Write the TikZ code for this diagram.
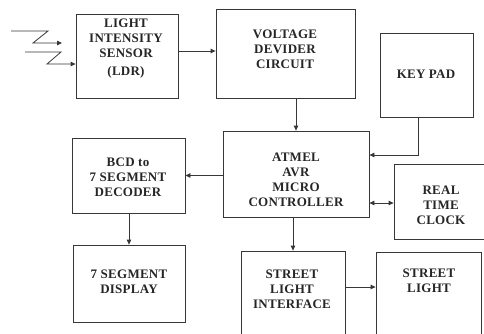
\documentclass[tikz,border=0pt]{standalone}
\usepackage{fontspec}
\setmainfont{Liberation Serif}[LetterSpace=2]
\usetikzlibrary{positioning, arrows.meta, calc}
\definecolor{blkline}{RGB}{55,55,55}
\tikzset{
    blk/.style={rectangle, draw=blkline, line width=0.8pt, inner sep=0pt},
    blktext/.style={align=center, font=\fontsize{13}{15}\selectfont\bfseries, text=black!85, inner sep=0pt},
    arr/.style={-{Triangle[length=5pt, width=4.5pt]}, line width=0.8pt, draw=blkline},
    arrboth/.style={{Triangle[length=5pt, width=4.5pt]}-{Triangle[length=5pt, width=4.5pt]}, line width=0.8pt, draw=blkline},
    ray/.style={line width=0.8pt, draw=blkline}
}
\begin{document}
\begin{tikzpicture}[x=1pt, y=-1pt]
    \useasboundingbox (0,0) rectangle (484,333);
    \clip (0,0) rectangle (484,333);
    % blocks
    \node[blk, minimum width=102pt, minimum height=84pt] (ldr) at (127,56) {};
    \node[blk, minimum width=139pt, minimum height=89pt] (vdc) at (285.5,53.5) {};
    \node[blk, minimum width=93pt, minimum height=84pt] (key) at (426.5,75) {};
    \node[blk, minimum width=146pt, minimum height=86pt] (avr) at (296,174) {};
    \node[blk, minimum width=106pt, minimum height=75pt] (rtc) at (447,201.5) {};
    \node[blk, minimum width=113pt, minimum height=75pt] (bcd) at (128.5,175.5) {};
    \node[blk, minimum width=112pt, minimum height=77pt] (seg) at (129,283.5) {};
    \node[blk, minimum width=104pt, minimum height=94pt] (sli) at (293,298) {};
    \node[blk, minimum width=105pt, minimum height=93pt] (sl) at (428.5,298.5) {};
    % texts
    \node[blktext] (ldrtxt) at (126,49) {LIGHT\\INTENSITY\\SENSOR\\[3pt](LDR)};
    \node[blktext] (vdctxt) at (285,49) {VOLTAGE\\DEVIDER\\CIRCUIT};
    \node[blktext] (keytxt) at (426,74) {KEY PAD};
    \node[blktext] (avrtxt) at (296,180) {ATMEL\\AVR\\MICRO\\CONTROLLER};
    \node[blktext] (rtctxt) at (441,205) {REAL\\TIME\\CLOCK};
    \node[blktext] (bcdtxt) at (128,177.5) {BCD to\\7 SEGMENT\\DECODER};
    \node[blktext] (segtxt) at (129,281.5) {7 SEGMENT\\DISPLAY};
    \node[blktext] (slitxt) at (292,289.5) {STREET\\LIGHT\\INTERFACE};
    \node[blktext] (sltxt) at (429,281) {STREET\\LIGHT};
    % light rays
    \coordinate (raya) at (11,31);
    \coordinate (rayb) at (25,52);
    \draw[arr] (raya) -- ++(37,0) -- ++(-15,12) -- ++(29,0);
    \draw[arr] (rayb) -- ++(36,0) -- ++(-14,12) coordinate (rayc) -- (ldr.west |- rayc);
    % connections
    \coordinate (lvy) at (0,51);
    \coordinate (kpx) at (418,155);
    \coordinate (rty) at (0,203);
    \coordinate (sly) at (0,287);
    \draw[arr] (ldr.east |- lvy) -- (vdc.west |- lvy);
    \draw[arr] (vdc.south -| avr.north) -- (avr.north);
    \draw[arr] (key.south -| kpx) |- (avr.east |- kpx);
    \draw[arr] (avr.west |- bcd.east) -- (bcd.east);
    \draw[arr] (bcd.south -| seg.north) -- (seg.north);
    \draw[arrboth] (avr.east |- rty) -- (rtc.west |- rty);
    \draw[arr] (avr.south -| sli.north) -- (sli.north);
    \draw[arr] (sli.east |- sly) -- (sl.west |- sly);
\end{tikzpicture}
\end{document}
